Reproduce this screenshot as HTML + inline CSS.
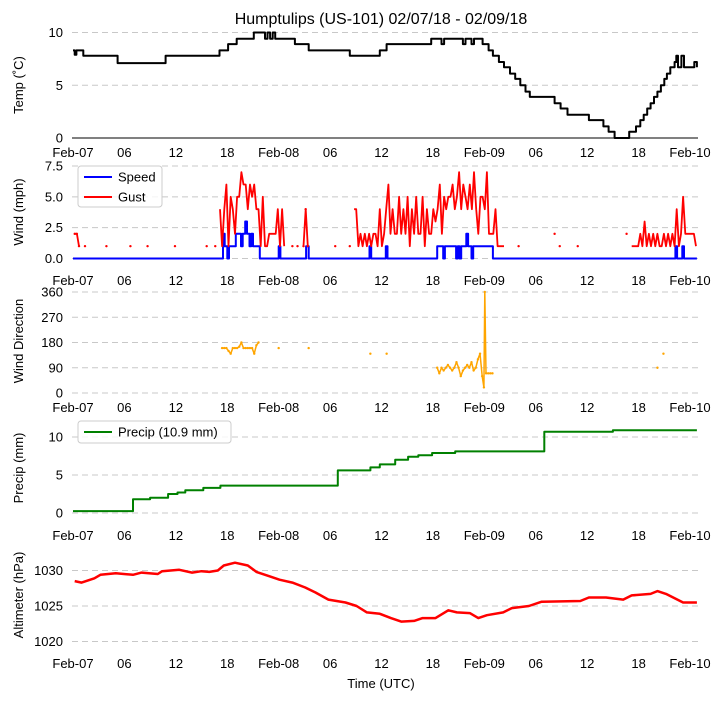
<!DOCTYPE html>
<html><head><meta charset="utf-8"><style>
body{margin:0;background:#fff;}
svg text{font-family:"Liberation Sans",sans-serif;font-size:13px;fill:#000;}
</style></head><body>
<svg id="c" width="721" height="700" viewBox="0 0 721 700" xmlns="http://www.w3.org/2000/svg">
<text x="381" y="24" text-anchor="middle" style="font-size:16px">Humptulips (US-101) 02/07/18 - 02/09/18</text>
<text x="381" y="688" text-anchor="middle">Time (UTC)</text>
</svg>
<script>
// ---- data (hours since Feb-07 00Z) ----
const xTickLabels = ["Feb-07","06","12","18","Feb-08","06","12","18","Feb-09","06","12","18","Feb-10"];
const tempH = [0,0.2,0.4,1.2,5.2,10.8,17.1,18.1,19.1,21.1,22.4,22.7,23.0,23.3,23.6,24.4,25.9,27.5,32.3,35.8,36.6,41.8,43.0,43.3,45.5,45.8,46.5,46.8,47.8,48.5,49.0,49.7,50.3,51.0,51.6,52.2,52.8,53.3,56.2,56.9,57.7,60.2,61.9,62.5,63.2,64.9,65.7,66.2,66.6,67.0,67.4,67.8,68.2,68.6,69.0,69.3,69.7,70.2,70.4,70.6,71.0,71.3,72.5,72.8];
const tempV = [8.3,7.9,8.3,7.8,7.1,7.8,8.3,8.9,9.4,10,9.4,10,9.4,10,9.4,9.4,8.9,8.3,7.8,8.3,8.9,9.4,8.9,9.4,8.9,9.4,8.9,9.4,8.9,8.3,7.8,7.2,6.7,6.1,5.6,5.0,4.4,3.9,3.3,2.8,2.2,1.7,1.1,0.6,0,0.6,1.1,1.7,2.2,2.8,3.3,3.9,4.4,5.0,5.6,6.1,6.7,7.2,7.8,6.7,7.8,6.7,7.2,6.7];
const speedH = [0,17.5,17.7,18.0,18.2,19.0,19.6,19.8,20.1,20.3,20.6,20.8,21.0,21.8,24.0,24.2,27.2,27.5,34.6,34.8,36.5,36.7,42.5,43.2,43.4,44.7,44.9,45.1,45.3,45.9,46.1,46.5,46.7,49.0,70.3,70.5,71.1,71.3,72.8];
const speedV = [0,2,1,0,1,2,1,2,3,2,1,2,1,0,1,0,1,0,1,0,1,0,1,0,1,0,1,0,1,2,1,0,1,0,1,0,1,0,0];
const gust1Start = 17.15;
const gust1 = [4,1,4,6,1,5,4,2,5,5,7,6,6,4,6,5,6,4,4,1,5,1,1,2,2,2,2,4,1,4,1];
const gust2Start = 32.8;
const gust2 = [4,4,1,2,1,2,1, 2,1,2,2,1,4,1,2, 4,6,2,4,2,2,5,2, 4,2,5,1,4,2,5,2, 2,5,1,4,2,2,4,3, 4,6,2,5,4,5,5,6, 4,5,7,4,6,5,4,6, 4,7,4,2,5,5,4,7,2, 2,2,4,1,1,1,1];
const gust3Start = 65.2;
const gust3 = [1,1,1,1,2,1,3,1,2,1,2,1,2,1,1,2,1,2,1,2,1,4,1,2,5,2,2,2,2,2,1];
const gustIsoH = [0.2,0.45,0.7,1.4,3.9,6.7,8.7,11.9,15.6,16.6,25.6,26.2,26.9,27.15,27.4,30.6,32.3,52.0,56.2,56.8,58.9,64.6];
const gustIsoV = [2,2,1,1,1,1,1,1,1,1,1,1,1,4,1,1,1,1,2,1,1,2];
const dirH = [17.4,17.65,17.9,18.15,18.4,18.65,18.9,19.15,19.4,19.65,19.9,20.15,20.4,20.65,20.9,21.15,21.4,21.65,24.0,27.5,34.7,36.6,42.5,42.75,43.0,43.25,43.5,43.75,44.0,44.25,44.5,44.75,45.0,45.25,45.5,45.75,46.0,46.25,46.5,46.75,47.0,47.25,47.5,47.75,47.95,48.05,48.2,48.45,48.7,48.95,68.2,68.9];
const dirV = [160,160,160,150,140,160,160,160,165,180,160,160,160,160,160,140,170,180,160,160,140,140,90,70,90,80,90,100,90,80,90,110,90,60,80,90,100,90,110,80,90,120,140,60,20,360,70,70,70,70,90,140];
const precipH = [0,7,9,11.1,12.2,13.1,15.2,17.2,30.9,34.7,35.8,37.6,39.1,40.3,41.9,44.6,55,63,72.8];
const precipV = [0.25,1.8,2.0,2.5,2.7,3.0,3.3,3.6,5.6,6.0,6.4,7.0,7.4,7.6,7.9,8.1,10.7,10.9,10.9];
const altH = [0.2,1.0,2.5,3.2,5.0,7.0,8.0,9.9,10.4,12.4,13.9,15.0,15.9,16.9,17.6,18.9,20.4,21.4,22.9,24.1,25.6,27.1,28.3,29.8,31.8,33.1,34.3,35.8,37.1,38.3,39.8,40.8,42.3,43.8,44.8,46.3,47.3,48.3,50.2,51.2,53.2,54.7,59.2,60.2,62.2,64.2,65.2,67.4,68.2,69.2,71.2,72.8];
const altV = [1028.5,1028.3,1028.9,1029.4,1029.6,1029.4,1029.7,1029.5,1029.9,1030.1,1029.7,1029.9,1029.8,1030.0,1030.7,1031.1,1030.7,1029.8,1029.2,1028.7,1028.3,1027.6,1026.9,1025.9,1025.5,1025.0,1024.1,1023.9,1023.3,1022.8,1022.9,1023.3,1023.3,1024.4,1024.1,1024.0,1023.3,1023.7,1024.1,1024.7,1025.0,1025.6,1025.7,1026.2,1026.2,1025.9,1026.5,1026.7,1027.1,1026.7,1025.5,1025.5];

const svg = document.getElementById('c');
const NS = 'http://www.w3.org/2000/svg';
const X0 = 73, X1 = 690, HRS = 72;
function xs(h){ return X0 + h*(X1-X0)/HRS; }
function mk(tag, attrs){ const e=document.createElementNS(NS,tag); for(const k in attrs) e.setAttribute(k,attrs[k]); svg.appendChild(e); return e; }

const panels = [
 {name:'temp', y0:138, y1:32.5, v0:0, v1:10, ticks:[0,5,10], labels:['0','5','10'], xlab:157, title:'Temp (˚C)', tc:85, baseline:true},
 {name:'wind', y0:258.5, y1:166, v0:0, v1:7.5, ticks:[0,2.5,5,7.5], labels:['0.0','2.5','5.0','7.5'], xlab:285, title:'Wind (mph)', tc:212},
 {name:'direction', y0:393, y1:292, v0:0, v1:360, ticks:[0,90,180,270,360], labels:['0','90','180','270','360'], xlab:412, title:'Wind Direction', tc:341},
 {name:'precip', y0:513, y1:437, v0:0, v1:10, ticks:[0,5,10], labels:['0','5','10'], xlab:540, title:'Precip (mm)', tc:468},
 {name:'altimeter', y0:641.5, y1:570.5, v0:1020, v1:1030, ticks:[1020,1025,1030], labels:['1020','1025','1030'], xlab:668, title:'Altimeter (hPa)', tc:595}
];
function ysFn(p){ return v => p.y0 + (v-p.v0)*(p.y1-p.y0)/(p.v1-p.v0); }

panels.forEach(p=>{
  const y = ysFn(p);
  p.ticks.forEach((t,i)=>{
    const g = mk('line',{x1:72,x2:698,y1:y(t),y2:y(t),stroke:'#c8c8c8','stroke-dasharray':'6,4','stroke-width':1});
    
    
    const tl = mk('text',{x:63,y:y(t)+4.5,'text-anchor':'end'});
    tl.textContent = p.labels[i];
    
    
  });
  if(p.baseline){
    const b = mk('line',{x1:72,x2:698,y1:p.y0,y2:p.y0,stroke:'#000','stroke-width':1});
    
    
  }
  xTickLabels.forEach((l,i)=>{
    const t = mk('text',{x:xs(i*6),y:p.xlab,'text-anchor':'middle'});
    t.textContent = l;
    
    
  });
  const yt = mk('text',{x:0,y:0,'text-anchor':'middle',transform:`translate(23,${p.tc}) rotate(-90)`});
  yt.textContent = p.title;
  
  
  p.y = y;
});

function pathFrom(H, V, y, step, gap){
  let d='', prev=null;
  for(let i=0;i<H.length;i++){
    const px=xs(H[i]), py=y(V[i]);
    if(prev===null || H[i]-prev.h>gap){ d+=`M${px.toFixed(1)},${py.toFixed(1)}`; }
    else { if(step) d+=`H${px.toFixed(1)}`; d+=`L${px.toFixed(1)},${py.toFixed(1)}`; }
    prev={h:H[i]};
  }
  return d;
}
function series(name,H,V,p,color,step,gap,w,dots){
  const path = mk('path',{d:pathFrom(H,V,p.y,step,gap),fill:'none',stroke:color,'stroke-width':w,'stroke-linejoin':'round'});
  
  
  if(dots){
    for(let i=0;i<H.length;i++){
      const c = mk('circle',{cx:xs(H[i]),cy:p.y(V[i]),r:1.2,fill:color});
      
      
    }
  }
}
function seq(start, vals){ return vals.map((v,i)=>start+i*0.25); }

const [pT,pW,pD,pP,pA] = panels;
series('temp-line',tempH,tempV,pT,'#000',true,99,2,false);
series('speed-line',speedH,speedV,pW,'#0000ff',true,99,2,false);
series('gust-line-1',seq(gust1Start,gust1),gust1,pW,'#ff0000',false,0.3,1.8,false);
series('gust-line-2',seq(gust2Start,gust2),gust2,pW,'#ff0000',false,0.3,1.8,false);
series('gust-line-3',seq(gust3Start,gust3),gust3,pW,'#ff0000',false,0.3,1.8,false);
series('gust-isolated',gustIsoH,gustIsoV,pW,'#ff0000',false,0.3,1.8,true);
series('direction-line',dirH,dirV,pD,'#ffa500',false,0.3,1.5,true);
series('precip-line',precipH,precipV,pP,'#008000',true,99,2,false);
series('altimeter-line',altH,altV,pA,'#ff0000',false,99,2.5,false);

// legends
function legend(name,x,y,w,h,items){
  const r = mk('rect',{x:x,y:y,width:w,height:h,rx:3,fill:'#fff','fill-opacity':0.8,stroke:'#ccc'});
  
  
  items.forEach((it,i)=>{
    const yy = y+11+i*20;
    const l = mk('line',{x1:x+6,x2:x+34,y1:yy,y2:yy,stroke:it.c,'stroke-width':2});
    
    
    const t = mk('text',{x:x+40,y:yy+4.5});
    t.textContent = it.t;
    
    
  });
}
legend('wind-legend',78,166,84,41,[{c:'#0000ff',t:'Speed'},{c:'#ff0000',t:'Gust'}]);
legend('precip-legend',78,421,153,22,[{c:'#008000',t:'Precip (10.9 mm)'}]);
</script>
</body></html>
